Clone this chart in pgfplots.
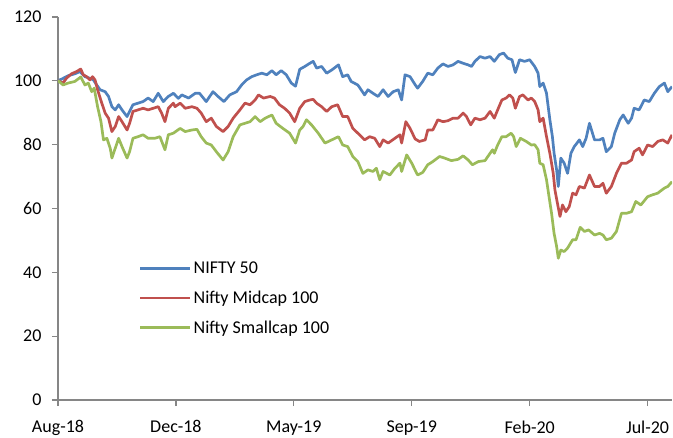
\documentclass[border=0pt]{standalone}
\usepackage{fontspec}
\setmainfont{Carlito}
\usepackage{pgfplots}
\usepackage{pgfplotstable}
\pgfplotsset{compat=1.18}
\definecolor{cblue}{HTML}{4F81BD}
\definecolor{cred}{HTML}{C0504D}
\definecolor{cgreen}{HTML}{9BBB59}
\definecolor{axgray}{HTML}{868686}

\pgfplotstableread{
d v
0 100.1
4 100.5
12 101.6
20 102.2
26 102.9
32 101.3
38 100.8
42 100.3
46 98.7
50 97.2
56 96.6
60 95.1
64 91.9
68 90.9
72 92.5
76 90.9
82 88.8
85 90.4
89 92.5
95 93.0
101 93.5
107 94.6
113 93.5
119 96.1
125 93.5
131 95.1
137 96.1
143 94.5
147 95.6
155 94.6
163 96.1
168 96.1
176 93.5
184 96.6
190 95.1
197 93.5
204 95.6
212 96.6
218 98.7
224 100.3
230 101.3
236 101.9
242 102.4
248 101.9
254 103.2
259 101.9
265 103.2
271 101.9
277 99.3
282 98.3
287 103.6
293 104.5
299 105.5
303 106.1
307 104.0
313 104.5
319 102.4
325 103.4
333 105.0
338 101.3
344 101.9
348 99.8
356 98.7
364 95.6
368 97.2
374 96.1
380 95.1
386 97.2
392 95.1
398 96.6
404 97.2
408 94.0
412 101.9
418 101.3
424 98.8
427 97.7
433 99.8
439 102.4
445 101.9
451 104.0
457 105.3
463 104.5
469 105.0
475 106.1
481 105.5
487 105.0
491 104.5
495 106.1
501 107.6
507 107.1
513 107.6
518 106.1
524 108.2
529 108.7
534 107.1
539 106.6
543 102.6
548 106.6
554 106.1
560 106.6
566 104.5
570 102.4
572 98.2
576 99.3
580 96.1
582 91.9
584 87.8
587 82.5
589 77.3
592 72.1
594 66.9
597 75.8
601 74.2
605 71.0
609 77.3
613 79.4
619 81.5
623 79.4
627 82.0
631 86.7
637 81.5
643 81.5
647 82.0
651 77.8
657 79.4
661 83.6
667 87.8
671 89.3
677 86.7
681 88.3
684 91.4
690 90.9
696 94.0
702 93.5
708 96.1
714 98.2
720 99.3
724 96.6
729 98.2
}\nifty

\pgfplotstableread{
d v
0 100.1
6 99.3
10 100.8
16 102.2
22 102.9
27 103.7
30 101.9
34 101.3
38 100.3
41 101.3
44 100.3
47 97.2
52 93.0
56 89.9
60 88.3
64 84.1
68 85.7
72 88.8
76 87.2
82 84.6
85 86.7
89 90.4
95 90.9
101 91.4
107 90.9
113 91.4
119 91.9
123 89.9
127 87.2
131 91.4
137 93.0
139 91.9
145 93.0
151 91.4
159 91.9
165 91.4
170 89.9
176 87.2
182 88.3
188 85.7
196 84.1
202 85.7
208 88.3
216 90.9
222 93.0
228 92.5
234 94.0
238 95.6
244 94.6
252 95.1
257 94.6
263 92.5
269 91.4
275 89.9
281 87.2
287 91.4
293 93.5
299 94.0
303 94.2
307 93.0
313 91.9
319 90.4
325 91.9
332 92.5
338 88.8
344 88.8
350 85.1
356 83.6
364 81.5
370 82.5
376 82.0
382 79.4
386 81.5
392 80.5
400 82.0
406 83.1
408 80.5
413 87.2
418 85.1
424 81.8
429 81.0
436 81.5
439 84.6
445 84.6
451 87.8
457 87.2
463 87.5
469 88.3
475 88.3
481 89.9
485 88.8
490 86.2
495 88.3
501 87.8
507 88.3
513 90.4
518 88.3
522 90.9
527 94.0
532 94.6
536 95.6
540 94.6
543 91.4
548 95.1
552 95.6
558 94.0
562 94.6
566 93.5
570 90.9
572 87.2
576 88.3
580 82.5
584 77.3
588 71.0
590 65.8
593 61.6
596 57.5
599 61.1
603 59.0
607 60.6
611 64.8
615 64.3
619 66.9
625 66.4
631 70.5
637 66.9
643 66.9
647 67.9
651 64.8
657 66.9
663 71.0
669 74.2
675 74.2
681 75.2
684 77.8
690 78.9
694 76.8
700 79.9
706 79.4
712 81.0
718 81.5
724 80.5
729 83.1
}\midcap

\pgfplotstableread{
d v
0 100.1
6 98.7
12 99.3
20 99.8
27 101.2
32 98.7
36 99.3
40 96.6
43 97.7
47 91.9
51 87.2
54 81.5
58 82.0
62 78.9
64 75.8
68 78.9
72 82.0
76 79.4
82 75.8
85 77.8
89 82.0
95 82.5
101 83.1
107 82.0
115 82.0
121 82.5
127 78.4
131 83.1
137 83.6
145 85.1
151 84.1
159 84.6
165 84.8
170 82.5
176 80.5
182 79.9
188 77.8
196 75.2
202 77.8
208 82.5
216 86.2
222 86.7
228 87.2
234 88.8
240 87.2
246 88.3
254 89.3
259 86.7
267 85.1
275 83.6
282 80.5
287 84.6
291 85.7
295 87.8
301 86.2
309 83.6
317 80.5
325 81.5
333 82.5
338 79.9
344 79.4
350 76.3
356 74.7
362 71.0
368 72.1
374 71.6
378 72.6
382 69.0
386 71.6
394 70.5
400 72.6
406 74.2
408 71.6
414 76.8
420 74.2
425 71.5
427 70.5
433 71.3
439 73.7
445 74.7
453 76.3
459 75.8
467 75.0
475 75.4
481 76.5
487 75.2
492 73.7
499 74.7
507 75.0
513 77.3
516 78.4
518 77.3
522 79.9
527 82.5
532 82.5
538 83.6
541 82.5
544 79.4
549 82.0
556 81.0
562 79.9
566 80.0
570 78.4
572 74.2
576 73.7
580 69.0
583 63.7
586 58.5
589 52.2
592 48.1
594 44.4
597 47.0
601 46.5
605 47.6
611 50.2
615 50.2
620 54.1
625 52.8
630 53.3
637 51.7
643 52.2
647 51.7
651 50.2
657 50.7
663 52.8
669 58.5
675 58.5
681 59.0
686 62.2
692 61.1
700 63.7
706 64.3
712 64.8
720 66.4
724 66.9
729 68.4
}\smallcap

\begin{document}
\begin{tikzpicture}
\begin{axis}[
  scale only axis, width=614bp, height=383bp,
  xmin=0, xmax=729, ymin=0, ymax=120,
  axis x line=bottom, axis y line=left,
  axis line style={-, draw=axgray, line width=1.5bp},
  xtick={0,140,280,420,560,700},
  xticklabels={Aug-18,Dec-18,May-19,Sep-19,Feb-20,Jul-20},
  ytick={0,20,40,60,80,100,120},
  tick align=outside,
  major tick length=6bp,
  tick style={draw=axgray, line width=1.2bp},
  /pgf/number format/assume math mode=true,
  tick label style={font=\fontsize{18bp}{22bp}\selectfont, text=black},
  yticklabel style={xshift=-7bp},
  xticklabel style={yshift=-11bp},
  legend style={draw=none, fill=none, at={(0.1315,0.372)}, anchor=north west,
    font=\fontsize{18bp}{22bp}\selectfont, row sep=12bp, inner xsep=0pt},
  legend cell align=left,
  legend image code/.code={\draw[#1] (0bp,0bp) -- (50bp,0bp);},
  every axis plot/.append style={line width=2.7bp, line join=round},
]
\addplot[cblue] table[x=d,y=v] {\nifty};
\addlegendentry{NIFTY 50}
\addplot[cred] table[x=d,y=v] {\midcap};
\addlegendentry{Nifty Midcap 100}
\addplot[cgreen] table[x=d,y=v] {\smallcap};
\addlegendentry{Nifty Smallcap 100}
\end{axis}
\pgfresetboundingbox
\useasboundingbox (-58bp,-38bp) rectangle (615bp,400bp);
\end{tikzpicture}
\end{document}
